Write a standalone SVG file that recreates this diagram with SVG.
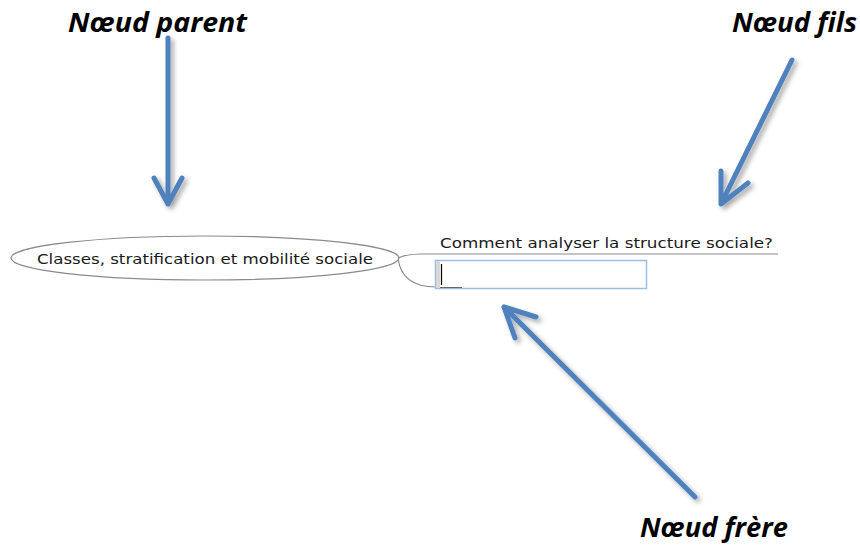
<svg xmlns="http://www.w3.org/2000/svg" width="860" height="550" viewBox="0 0 860 550">
<style>
.lbl{font-family:"Open Sans","Noto Sans","Liberation Sans",sans-serif;font-weight:bold;font-style:italic;font-size:26px;fill:#000}
.nt{font-family:"DejaVu Sans","Liberation Sans",sans-serif;font-size:14.5px;fill:#1a1a1a}
.arr{fill:none;stroke:#4f81bd;stroke-width:5;stroke-linecap:round;stroke-linejoin:round}
.con{fill:none;stroke:#8a8a8a;stroke-width:1.2}
</style>
<defs>
<filter id="sh" x="-30%" y="-30%" width="160%" height="160%">
<feGaussianBlur in="SourceAlpha" stdDeviation="2.5"/>
<feOffset dx="3" dy="3" result="b"/>
<feComponentTransfer><feFuncA type="linear" slope="0.35"/></feComponentTransfer>
<feMerge><feMergeNode/><feMergeNode in="SourceGraphic"/></feMerge>
</filter>
</defs>
<rect width="860" height="550" fill="#fff"/>
<g id="connectors">
<path class="con" d="M398,258 C405,255 410,254 420,254 L778,254"/>
<path class="con" d="M398,258 C400,275 410,287 436,287"/>
</g>
<g id="parent">
<ellipse cx="205" cy="258" rx="194" ry="22" fill="#fff" stroke="#8a8a8a" stroke-width="1.2"/>
<text class="nt" x="205" y="264" text-anchor="middle" textLength="336" lengthAdjust="spacingAndGlyphs">Classes, stratification et mobilité sociale</text>
</g>
<g id="child">
<text class="nt" x="440" y="248" textLength="333" lengthAdjust="spacingAndGlyphs">Comment analyser la structure sociale?</text>
</g>
<g id="sibling">
<rect x="435.5" y="260.5" width="211" height="28" fill="#fff" stroke="#9dbde0" stroke-width="1.5"/>
<rect x="436" y="261" width="4" height="27" fill="#d8d8d8"/>
<line x1="441.5" y1="264" x2="441.5" y2="285" stroke="#000" stroke-width="1.2"/>
<line x1="440" y1="287.5" x2="462" y2="287.5" stroke="#666" stroke-width="1"/>
</g>
<g id="arrows" filter="url(#sh)">
<path class="arr" d="M168,38 L168,204 M154,178 L168,204 L182,178"/>
<path class="arr" d="M792,60 L721,204 M721,171 L721,204 L748,183"/>
<path class="arr" d="M695,497 L504,307 M536,317 L504,307 L515,338"/>
</g>
<g id="labels">
<text class="lbl" x="68" y="32" textLength="179" lengthAdjust="spacingAndGlyphs">Nœud parent</text>
<text class="lbl" x="732" y="32" textLength="125" lengthAdjust="spacingAndGlyphs">Nœud fils</text>
<text class="lbl" x="640" y="537" textLength="148" lengthAdjust="spacingAndGlyphs">Nœud frère</text>
</g>
</svg>
